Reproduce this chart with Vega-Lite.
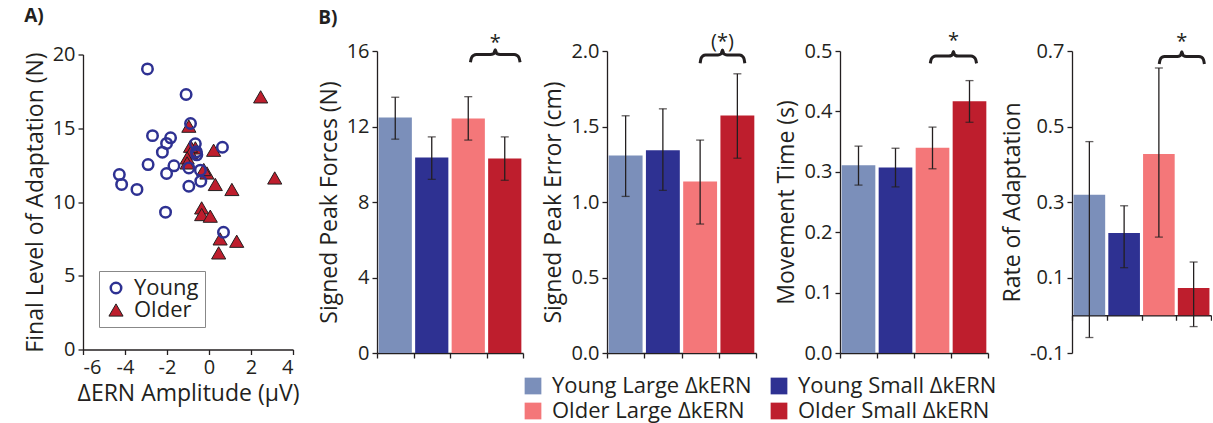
{
  "$schema": "https://vega.github.io/schema/vega-lite/v6.json",
  "padding": {"left": 24, "top": 6, "right": 0, "bottom": 4},
  "background": "white",
  "datasets": {
    "scatter": [
      {"group": "Older", "dern": 2.46, "final": 17.13},
      {"group": "Older", "dern": -0.96, "final": 15.14},
      {"group": "Older", "dern": 0.22, "final": 13.51},
      {"group": "Older", "dern": -0.65, "final": 13.67},
      {"group": "Older", "dern": -0.88, "final": 13.78},
      {"group": "Older", "dern": -0.88, "final": 13.33},
      {"group": "Older", "dern": -1.04, "final": 12.99},
      {"group": "Older", "dern": -1.04, "final": 12.65},
      {"group": "Older", "dern": -0.1, "final": 11.97},
      {"group": "Older", "dern": -0.25, "final": 12.2},
      {"group": "Older", "dern": 0.3, "final": 11.19},
      {"group": "Older", "dern": 1.09, "final": 10.85},
      {"group": "Older", "dern": 3.13, "final": 11.63},
      {"group": "Older", "dern": -0.35, "final": 9.6},
      {"group": "Older", "dern": -0.35, "final": 9.15},
      {"group": "Older", "dern": 0.06, "final": 9.04},
      {"group": "Older", "dern": 0.53, "final": 7.5},
      {"group": "Older", "dern": 1.32, "final": 7.34},
      {"group": "Older", "dern": 0.46, "final": 6.55},
      {"group": "Young", "dern": -2.93, "final": 19.02},
      {"group": "Young", "dern": -1.09, "final": 17.29},
      {"group": "Young", "dern": -0.88, "final": 15.32},
      {"group": "Young", "dern": -2.69, "final": 14.5},
      {"group": "Young", "dern": -1.83, "final": 14.35},
      {"group": "Young", "dern": -2.02, "final": 13.97},
      {"group": "Young", "dern": -2.22, "final": 13.38},
      {"group": "Young", "dern": -0.65, "final": 13.95},
      {"group": "Young", "dern": -0.6, "final": 13.4},
      {"group": "Young", "dern": -0.58, "final": 13.2},
      {"group": "Young", "dern": 0.64, "final": 13.71},
      {"group": "Young", "dern": -2.9, "final": 12.54},
      {"group": "Young", "dern": -1.67, "final": 12.45},
      {"group": "Young", "dern": -2.02, "final": 11.93},
      {"group": "Young", "dern": -0.96, "final": 12.31},
      {"group": "Young", "dern": -0.41, "final": 12.16},
      {"group": "Young", "dern": -0.39, "final": 11.41},
      {"group": "Young", "dern": -0.96, "final": 11.07},
      {"group": "Young", "dern": -4.27, "final": 11.86},
      {"group": "Young", "dern": -4.16, "final": 11.19},
      {"group": "Young", "dern": -3.43, "final": 10.85},
      {"group": "Young", "dern": -2.07, "final": 9.31},
      {"group": "Young", "dern": 0.69, "final": 7.95}
    ],
    "bars": [
      {"panel": "force", "cond": "Young Large ΔkERN", "mean": 12.48, "lo": 11.33, "hi": 13.55},
      {"panel": "force", "cond": "Young Small ΔkERN", "mean": 10.36, "lo": 9.2, "hi": 11.45},
      {"panel": "force", "cond": "Older Large ΔkERN", "mean": 12.43, "lo": 11.28, "hi": 13.58},
      {"panel": "force", "cond": "Older Small ΔkERN", "mean": 10.3, "lo": 9.15, "hi": 11.45},
      {"panel": "error", "cond": "Young Large ΔkERN", "mean": 1.308, "lo": 1.037, "hi": 1.571},
      {"panel": "error", "cond": "Young Small ΔkERN", "mean": 1.343, "lo": 1.077, "hi": 1.617},
      {"panel": "error", "cond": "Older Large ΔkERN", "mean": 1.136, "lo": 0.854, "hi": 1.41},
      {"panel": "error", "cond": "Older Small ΔkERN", "mean": 1.573, "lo": 1.29, "hi": 1.849},
      {"panel": "time", "cond": "Young Large ΔkERN", "mean": 0.311, "lo": 0.278, "hi": 0.3425},
      {"panel": "time", "cond": "Young Small ΔkERN", "mean": 0.307, "lo": 0.275, "hi": 0.339},
      {"panel": "time", "cond": "Older Large ΔkERN", "mean": 0.34, "lo": 0.305, "hi": 0.374},
      {"panel": "time", "cond": "Older Small ΔkERN", "mean": 0.417, "lo": 0.382, "hi": 0.451},
      {"panel": "rate", "cond": "Young Large ΔkERN", "mean": 0.3195, "lo": -0.059, "hi": 0.46},
      {"panel": "rate", "cond": "Young Small ΔkERN", "mean": 0.218, "lo": 0.126, "hi": 0.29},
      {"panel": "rate", "cond": "Older Large ΔkERN", "mean": 0.427, "lo": 0.207, "hi": 0.655},
      {"panel": "rate", "cond": "Older Small ΔkERN", "mean": 0.072, "lo": -0.03, "hi": 0.141}
    ],
    "braces": [
      {"panel": "force", "bx": 2.56, "by": 15.4},
      {"panel": "force", "bx": 2.587, "by": 15.63},
      {"panel": "force", "bx": 2.642, "by": 15.76},
      {"panel": "force", "bx": 2.723, "by": 15.81},
      {"panel": "force", "bx": 3.104, "by": 15.81},
      {"panel": "force", "bx": 3.199, "by": 15.86},
      {"panel": "force", "bx": 3.24, "by": 16.06},
      {"panel": "force", "bx": 3.281, "by": 15.86},
      {"panel": "force", "bx": 3.376, "by": 15.81},
      {"panel": "force", "bx": 3.757, "by": 15.81},
      {"panel": "force", "bx": 3.838, "by": 15.76},
      {"panel": "force", "bx": 3.893, "by": 15.63},
      {"panel": "force", "bx": 3.92, "by": 15.4},
      {"panel": "error", "bx": 2.5, "by": 1.919},
      {"panel": "error", "bx": 2.524, "by": 1.95},
      {"panel": "error", "bx": 2.572, "by": 1.967},
      {"panel": "error", "bx": 2.644, "by": 1.974},
      {"panel": "error", "bx": 2.98, "by": 1.974},
      {"panel": "error", "bx": 3.064, "by": 1.981},
      {"panel": "error", "bx": 3.1, "by": 2.007},
      {"panel": "error", "bx": 3.136, "by": 1.981},
      {"panel": "error", "bx": 3.22, "by": 1.974},
      {"panel": "error", "bx": 3.556, "by": 1.974},
      {"panel": "error", "bx": 3.628, "by": 1.967},
      {"panel": "error", "bx": 3.676, "by": 1.95},
      {"panel": "error", "bx": 3.7, "by": 1.919},
      {"panel": "time", "bx": 2.44, "by": 0.4795},
      {"panel": "time", "bx": 2.465, "by": 0.4863},
      {"panel": "time", "bx": 2.515, "by": 0.4902},
      {"panel": "time", "bx": 2.59, "by": 0.4916},
      {"panel": "time", "bx": 2.94, "by": 0.4916},
      {"panel": "time", "bx": 3.0275, "by": 0.4932},
      {"panel": "time", "bx": 3.065, "by": 0.499},
      {"panel": "time", "bx": 3.1025, "by": 0.4932},
      {"panel": "time", "bx": 3.19, "by": 0.4916},
      {"panel": "time", "bx": 3.54, "by": 0.4916},
      {"panel": "time", "bx": 3.615, "by": 0.4902},
      {"panel": "time", "bx": 3.665, "by": 0.4863},
      {"panel": "time", "bx": 3.69, "by": 0.4795},
      {"panel": "rate", "bx": 2.51, "by": 0.6655},
      {"panel": "rate", "bx": 2.536, "by": 0.6769},
      {"panel": "rate", "bx": 2.588, "by": 0.6834},
      {"panel": "rate", "bx": 2.666, "by": 0.6857},
      {"panel": "rate", "bx": 3.03, "by": 0.6857},
      {"panel": "rate", "bx": 3.121, "by": 0.6883},
      {"panel": "rate", "bx": 3.16, "by": 0.698},
      {"panel": "rate", "bx": 3.199, "by": 0.6883},
      {"panel": "rate", "bx": 3.29, "by": 0.6857},
      {"panel": "rate", "bx": 3.654, "by": 0.6857},
      {"panel": "rate", "bx": 3.732, "by": 0.6834},
      {"panel": "rate", "bx": 3.784, "by": 0.6769},
      {"panel": "rate", "bx": 3.81, "by": 0.6655}
    ],
    "stars": [
      {"panel": "force", "sx": 3.24, "sy": 16.45, "label": "*"},
      {"panel": "error", "sx": 3.1, "sy": 2.06, "label": "(*)"},
      {"panel": "time", "sx": 3.065, "sy": 0.516, "label": "*"},
      {"panel": "rate", "sx": 3.16, "sy": 0.724, "label": "*"}
    ]
  },
  "hconcat": [
    {
      "width": 210,
      "height": 295,
      "title": {"text": "A)", "offset": 19},
      "data": {"name": "scatter"},
      "mark": {"type": "point", "opacity": 1},
      "encoding": {
        "x": {"field": "dern", "type": "quantitative", "scale": {"domain": [-6, 4], "nice": false}, "axis": {"values": [-6, -4, -2, 0, 2, 4], "labelExpr": "replace(datum.label, '−', '-')", "title": "ΔERN Amplitude (μV)"}},
        "y": {"field": "final", "type": "quantitative", "scale": {"domain": [0, 20], "nice": false}, "axis": {"values": [0, 5, 10, 15, 20], "title": "Final Level of Adaptation (N)"}},
        "shape": {"field": "group", "type": "nominal", "scale": {"domain": ["Young", "Older"], "range": ["circle", "triangle-up"]}, "legend": {"orient": "none", "legendX": 16, "legendY": 220, "title": null, "strokeColor": "#888888", "fillColor": "white", "padding": 6, "labelFontSize": 22, "rowPadding": 0, "labelOffset": 7}},
        "fill": {"field": "group", "type": "nominal", "scale": {"domain": ["Young", "Older"], "range": ["transparent", "#be1e2d"]}},
        "stroke": {"field": "group", "type": "nominal", "scale": {"domain": ["Young", "Older"], "range": ["#2e3192", "#231f20"]}},
        "strokeWidth": {"field": "group", "type": "nominal", "scale": {"domain": ["Young", "Older"], "range": [2.5, 1]}},
        "size": {"field": "group", "type": "nominal", "scale": {"domain": ["Young", "Older"], "range": [110, 200]}}
      }
    },
    {
      "width": 146,
      "height": 302,
      "title": {"text": "B)", "offset": 5},
      "layer": [
        {
          "data": {"name": "bars"},
          "transform": [{"filter": "datum.panel === 'force'"}],
          "layer": [
            {
              "mark": {"type": "bar", "width": {"band": 0.91}},
              "encoding": {
                "x": {"field": "cond", "type": "nominal", "sort": null, "scale": {"domain": ["Young Large ΔkERN", "Young Small ΔkERN", "Older Large ΔkERN", "Older Small ΔkERN"], "paddingInner": 0, "paddingOuter": 0}, "axis": {"labels": false, "title": null, "tickBand": "extent"}},
                "y": {"field": "mean", "type": "quantitative", "scale": {"domain": [0, 16], "nice": false}, "axis": {"values": [0, 4, 8, 12, 16], "title": "Signed Peak Forces (N)"}},
                "color": {"field": "cond", "type": "nominal", "scale": {"domain": ["Young Large ΔkERN", "Young Small ΔkERN", "Older Large ΔkERN", "Older Small ΔkERN"], "range": ["#7b8fba", "#2e3192", "#f47779", "#be1e2d"]}, "legend": {"orient": "none", "direction": "horizontal", "legendX": 145, "legendY": 324, "columns": 2, "title": null, "symbolType": "square", "symbolSize": 280, "symbolStrokeWidth": 0, "labelFontSize": 22, "labelLimit": 400, "columnPadding": 16, "rowPadding": 3, "labelOffset": 8}}
              }
            },
            {
              "mark": {"type": "errorbar", "ticks": {"size": 8, "thickness": 1.3}, "rule": {"strokeWidth": 1.3}, "color": "#231f20"},
              "encoding": {
                "x": {"field": "cond", "type": "nominal", "sort": null},
                "y": {"field": "lo", "type": "quantitative", "scale": {"domain": [0, 16], "nice": false}, "title": "Signed Peak Forces (N)"},
                "y2": {"field": "hi"}
              }
            }
          ]
        },
        {
          "layer": [
            {
              "data": {"name": "braces"},
              "transform": [{"filter": "datum.panel === 'force'"}],
              "mark": {"type": "line", "interpolate": "monotone", "color": "#231f20", "strokeWidth": 3},
              "encoding": {
                "x": {"field": "bx", "type": "quantitative", "scale": {"domain": [0, 4], "nice": false}, "axis": null},
                "y": {"field": "by", "type": "quantitative", "scale": {"domain": [0, 16], "nice": false}, "title": "Signed Peak Forces (N)"}
              }
            },
            {
              "data": {"name": "stars"},
              "transform": [{"filter": "datum.panel === 'force'"}],
              "mark": {"type": "text", "fontSize": 20, "baseline": "middle", "color": "#231f20"},
              "encoding": {
                "x": {"field": "sx", "type": "quantitative", "scale": {"domain": [0, 4], "nice": false}, "axis": null},
                "y": {"field": "sy", "type": "quantitative", "scale": {"domain": [0, 16], "nice": false}, "title": "Signed Peak Forces (N)"},
                "text": {"field": "label"}
              }
            }
          ]
        }
      ],
      "resolve": {"scale": {"x": "independent"}, "axis": {"x": "independent"}}
    },
    {
      "width": 149,
      "height": 302,
      "layer": [
        {
          "data": {"name": "bars"},
          "transform": [{"filter": "datum.panel === 'error'"}],
          "layer": [
            {
              "mark": {"type": "bar", "width": {"band": 0.91}},
              "encoding": {
                "x": {"field": "cond", "type": "nominal", "sort": null, "scale": {"domain": ["Young Large ΔkERN", "Young Small ΔkERN", "Older Large ΔkERN", "Older Small ΔkERN"], "paddingInner": 0, "paddingOuter": 0}, "axis": {"labels": false, "title": null, "tickBand": "extent"}},
                "y": {"field": "mean", "type": "quantitative", "scale": {"domain": [0, 2], "nice": false}, "axis": {"values": [0, 0.5, 1, 1.5, 2], "format": ".1f", "title": "Signed Peak Error (cm)"}},
                "color": {"field": "cond", "type": "nominal", "scale": {"domain": ["Young Large ΔkERN", "Young Small ΔkERN", "Older Large ΔkERN", "Older Small ΔkERN"], "range": ["#7b8fba", "#2e3192", "#f47779", "#be1e2d"]}, "legend": null}
              }
            },
            {
              "mark": {"type": "errorbar", "ticks": {"size": 8, "thickness": 1.3}, "rule": {"strokeWidth": 1.3}, "color": "#231f20"},
              "encoding": {
                "x": {"field": "cond", "type": "nominal", "sort": null},
                "y": {"field": "lo", "type": "quantitative", "scale": {"domain": [0, 2], "nice": false}, "title": "Signed Peak Error (cm)"},
                "y2": {"field": "hi"}
              }
            }
          ]
        },
        {
          "layer": [
            {
              "data": {"name": "braces"},
              "transform": [{"filter": "datum.panel === 'error'"}],
              "mark": {"type": "line", "interpolate": "monotone", "color": "#231f20", "strokeWidth": 3},
              "encoding": {
                "x": {"field": "bx", "type": "quantitative", "scale": {"domain": [0, 4], "nice": false}, "axis": null},
                "y": {"field": "by", "type": "quantitative", "scale": {"domain": [0, 2], "nice": false}, "title": "Signed Peak Error (cm)"}
              }
            },
            {
              "data": {"name": "stars"},
              "transform": [{"filter": "datum.panel === 'error'"}],
              "mark": {"type": "text", "fontSize": 20, "baseline": "middle", "color": "#231f20"},
              "encoding": {
                "x": {"field": "sx", "type": "quantitative", "scale": {"domain": [0, 4], "nice": false}, "axis": null},
                "y": {"field": "sy", "type": "quantitative", "scale": {"domain": [0, 2], "nice": false}, "title": "Signed Peak Error (cm)"},
                "text": {"field": "label"}
              }
            }
          ]
        }
      ],
      "resolve": {"scale": {"x": "independent"}, "axis": {"x": "independent"}}
    },
    {
      "width": 148,
      "height": 302,
      "layer": [
        {
          "data": {"name": "bars"},
          "transform": [{"filter": "datum.panel === 'time'"}],
          "layer": [
            {
              "mark": {"type": "bar", "width": {"band": 0.91}},
              "encoding": {
                "x": {"field": "cond", "type": "nominal", "sort": null, "scale": {"domain": ["Young Large ΔkERN", "Young Small ΔkERN", "Older Large ΔkERN", "Older Small ΔkERN"], "paddingInner": 0, "paddingOuter": 0}, "axis": {"labels": false, "title": null, "tickBand": "extent"}},
                "y": {"field": "mean", "type": "quantitative", "scale": {"domain": [0, 0.5], "nice": false}, "axis": {"values": [0, 0.1, 0.2, 0.3, 0.4, 0.5], "format": ".1f", "title": "Movement Time (s)"}},
                "color": {"field": "cond", "type": "nominal", "scale": {"domain": ["Young Large ΔkERN", "Young Small ΔkERN", "Older Large ΔkERN", "Older Small ΔkERN"], "range": ["#7b8fba", "#2e3192", "#f47779", "#be1e2d"]}, "legend": null}
              }
            },
            {
              "mark": {"type": "errorbar", "ticks": {"size": 8, "thickness": 1.3}, "rule": {"strokeWidth": 1.3}, "color": "#231f20"},
              "encoding": {
                "x": {"field": "cond", "type": "nominal", "sort": null},
                "y": {"field": "lo", "type": "quantitative", "scale": {"domain": [0, 0.5], "nice": false}, "title": "Movement Time (s)"},
                "y2": {"field": "hi"}
              }
            }
          ]
        },
        {
          "layer": [
            {
              "data": {"name": "braces"},
              "transform": [{"filter": "datum.panel === 'time'"}],
              "mark": {"type": "line", "interpolate": "monotone", "color": "#231f20", "strokeWidth": 3},
              "encoding": {
                "x": {"field": "bx", "type": "quantitative", "scale": {"domain": [0, 4], "nice": false}, "axis": null},
                "y": {"field": "by", "type": "quantitative", "scale": {"domain": [0, 0.5], "nice": false}, "title": "Movement Time (s)"}
              }
            },
            {
              "data": {"name": "stars"},
              "transform": [{"filter": "datum.panel === 'time'"}],
              "mark": {"type": "text", "fontSize": 20, "baseline": "middle", "color": "#231f20"},
              "encoding": {
                "x": {"field": "sx", "type": "quantitative", "scale": {"domain": [0, 4], "nice": false}, "axis": null},
                "y": {"field": "sy", "type": "quantitative", "scale": {"domain": [0, 0.5], "nice": false}, "title": "Movement Time (s)"},
                "text": {"field": "label"}
              }
            }
          ]
        }
      ],
      "resolve": {"scale": {"x": "independent"}, "axis": {"x": "independent"}}
    },
    {
      "width": 139,
      "height": 302,
      "layer": [
        {
          "data": {"name": "bars"},
          "transform": [{"filter": "datum.panel === 'rate'"}],
          "layer": [
            {
              "mark": {"type": "bar", "width": {"band": 0.91}},
              "encoding": {
                "x": {"field": "cond", "type": "nominal", "sort": null, "scale": {"domain": ["Young Large ΔkERN", "Young Small ΔkERN", "Older Large ΔkERN", "Older Small ΔkERN"], "paddingInner": 0, "paddingOuter": 0}, "axis": {"labels": false, "title": null, "tickBand": "extent", "offset": -37.75}},
                "y": {"field": "mean", "type": "quantitative", "scale": {"domain": [-0.1, 0.7], "nice": false, "zero": false}, "axis": {"values": [-0.1, 0.1, 0.3, 0.5, 0.7], "format": ".1f", "labelExpr": "replace(datum.label, '−', '-')", "title": "Rate of Adaptation"}},
                "color": {"field": "cond", "type": "nominal", "scale": {"domain": ["Young Large ΔkERN", "Young Small ΔkERN", "Older Large ΔkERN", "Older Small ΔkERN"], "range": ["#7b8fba", "#2e3192", "#f47779", "#be1e2d"]}, "legend": null}
              }
            },
            {
              "mark": {"type": "errorbar", "ticks": {"size": 8, "thickness": 1.3}, "rule": {"strokeWidth": 1.3}, "color": "#231f20"},
              "encoding": {
                "x": {"field": "cond", "type": "nominal", "sort": null},
                "y": {"field": "lo", "type": "quantitative", "scale": {"domain": [-0.1, 0.7], "nice": false, "zero": false}, "title": "Rate of Adaptation"},
                "y2": {"field": "hi"}
              }
            }
          ]
        },
        {
          "layer": [
            {
              "data": {"name": "braces"},
              "transform": [{"filter": "datum.panel === 'rate'"}],
              "mark": {"type": "line", "interpolate": "monotone", "color": "#231f20", "strokeWidth": 3},
              "encoding": {
                "x": {"field": "bx", "type": "quantitative", "scale": {"domain": [0, 4], "nice": false}, "axis": null},
                "y": {"field": "by", "type": "quantitative", "scale": {"domain": [-0.1, 0.7], "nice": false, "zero": false}, "title": "Rate of Adaptation"}
              }
            },
            {
              "data": {"name": "stars"},
              "transform": [{"filter": "datum.panel === 'rate'"}],
              "mark": {"type": "text", "fontSize": 20, "baseline": "middle", "color": "#231f20"},
              "encoding": {
                "x": {"field": "sx", "type": "quantitative", "scale": {"domain": [0, 4], "nice": false}, "axis": null},
                "y": {"field": "sy", "type": "quantitative", "scale": {"domain": [-0.1, 0.7], "nice": false, "zero": false}, "title": "Rate of Adaptation"},
                "text": {"field": "label"}
              }
            }
          ]
        }
      ],
      "resolve": {"scale": {"x": "independent"}, "axis": {"x": "independent"}}
    }
  ],
  "spacing": 84,
  "bounds": "flush",
  "center": true,
  "resolve": {"scale": {"color": "independent"}, "legend": {"color": "independent"}},
  "config": {
    "font": "Open Sans",
    "view": {"stroke": null},
    "axis": {"labelFont": "Open Sans", "titleFont": "Open Sans", "labelFontSize": 20, "titleFontSize": 23, "titleFontWeight": "normal", "labelColor": "#231f20", "titleColor": "#231f20", "domainColor": "#231f20", "tickColor": "#231f20", "domainWidth": 1.3, "tickWidth": 1.3, "tickSize": 5, "grid": false, "labelPadding": 3, "titlePadding": 5},
    "legend": {"labelFont": "Open Sans", "labelFontSize": 22, "labelColor": "#231f20"},
    "title": {"font": "Open Sans", "fontSize": 19, "fontWeight": "bold", "color": "#231f20", "anchor": "start", "frame": "bounds"}
  }
}
